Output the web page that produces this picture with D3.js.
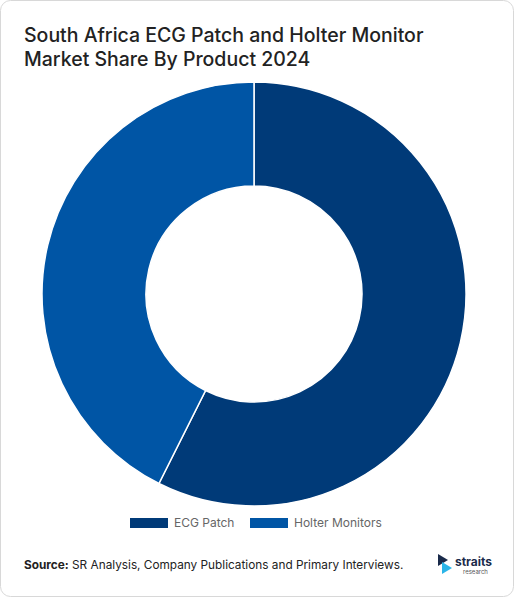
<!DOCTYPE html>
<html>
<head>
<meta charset="utf-8">
<script src="https://cdn.jsdelivr.net/npm/d3@7"></script>
<style>
  body { margin: 0; background: #fff; font-family: Inter, "Noto Sans", sans-serif; }
</style>
</head>
<body>
<div id="chart"></div>
<script>
// Data
const categories = ["ECG Patch", "Holter Monitors"];
const shares = [57.4, 42.6];
const colors = ["#003a78", "#0055a5"];

const width = 514, height = 597;
const cx = 254, cy = 294, outerR = 212, innerR = 108;

const svg = d3.select("#chart").append("svg")
    .attr("width", width)
    .attr("height", height);

// Card border
svg.append("rect")
    .attr("x", 0.5).attr("y", 0.5)
    .attr("width", width - 1).attr("height", height - 1)
    .attr("rx", 10)
    .attr("fill", "#fff")
    .attr("stroke", "#d8d8d8");

// Title
const title = svg.append("text")
    .attr("x", 24).attr("y", 42)
    .attr("font-size", 19.5).attr("font-weight", 500)
    .attr("fill", "#222");
title.append("tspan").attr("x", 24).text("South Africa ECG Patch and Holter Monitor");
title.append("tspan").attr("x", 24).attr("dy", 24).text("Market Share By Product 2024");

// Donut
const pie = d3.pie().sort(null).value(d => d);
const arc = d3.arc().innerRadius(innerR).outerRadius(outerR);

svg.append("g")
    .attr("transform", `translate(${cx},${cy})`)
    .selectAll("path")
    .data(pie(shares))
    .enter().append("path")
    .attr("d", arc)
    .attr("fill", (d, i) => colors[i])
    .attr("stroke", "#fff")
    .attr("stroke-width", 1.5);

// Legend
const legendX = [130, 250];
categories.forEach((c, i) => {
    svg.append("rect")
        .attr("x", legendX[i]).attr("y", 518)
        .attr("width", 38).attr("height", 10)
        .attr("fill", colors[i]);
    svg.append("text")
        .attr("x", legendX[i] + 44).attr("y", 527)
        .attr("font-size", 12).attr("fill", "#666")
        .text(c);
});

// Source
const src = svg.append("text")
    .attr("x", 24).attr("y", 569)
    .attr("font-size", 11.8).attr("fill", "#222");
src.append("tspan").attr("font-weight", 700).text("Source:");
src.append("tspan").text(" SR Analysis, Company Publications and Primary Interviews.");

// Logo
const logo = svg.append("g").attr("transform", "translate(438,554)");
logo.append("path").attr("d", "M0,0 L10,6 L0,12 Z").attr("fill", "#1a2a4a");
logo.append("path").attr("d", "M4,8 L14,14 L4,20 Z").attr("fill", "#2bb5e8");
logo.append("text").attr("x", 17).attr("y", 12)
    .attr("font-size", 12).attr("font-weight", 700).attr("fill", "#1a2a4a").text("straits");
logo.append("text").attr("x", 25).attr("y", 20)
    .attr("font-size", 6).attr("fill", "#555").text("research");
</script>
</body>
</html>
